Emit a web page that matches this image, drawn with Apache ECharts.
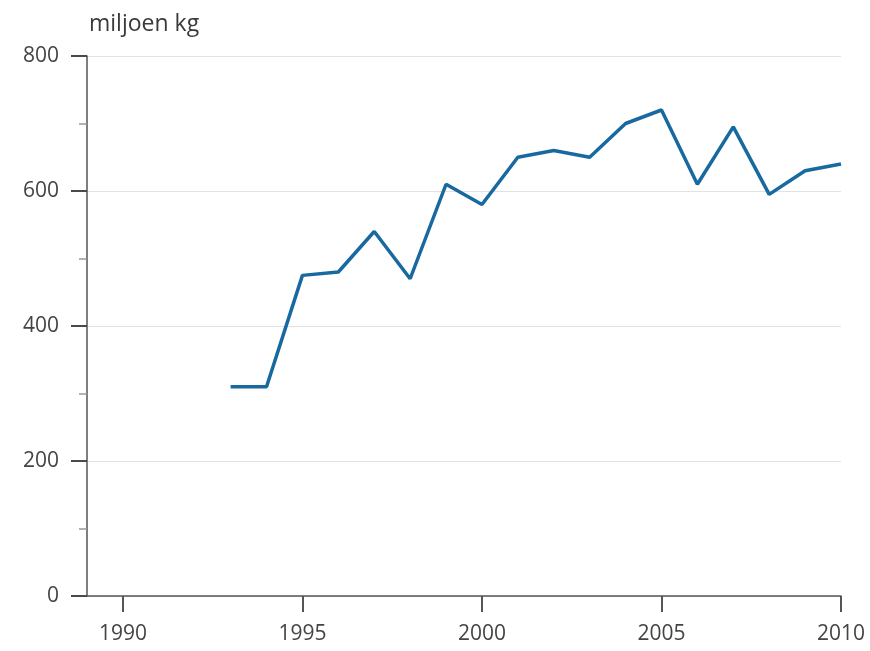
<!DOCTYPE html>
<html>
<head>
<meta charset="utf-8">
<script src="https://cdn.jsdelivr.net/npm/echarts@6/dist/echarts.min.js"></script>
<style>html,body{margin:0;padding:0;background:#fff}#c{width:870px;height:651px}</style>
</head>
<body>
<div id="c"></div>
<script>
var years = [1993,1994,1995,1996,1997,1998,1999,2000,2001,2002,2003,2004,2005,2006,2007,2008,2009,2010];
var values = [310,310,475,480,540,470,610,580,650,660,650,700,720,610,695,595,630,640];
var xTicks = [1990,1995,2000,2005,2010];
var yTicks = [0,200,400,600,800];
var unitLabel = 'miljoen kg';

var chart = echarts.init(document.getElementById('c'));
var font = 'Open Sans';
chart.setOption({
  animation: false,
  title: {text: unitLabel, left: 84, top: 8, textStyle: {fontFamily: font, fontSize: 23, fontWeight: 'normal', color: '#3a3a3a'}},
  grid: {left: 87, right: 29, top: 56, bottom: 55},
  xAxis: {
    type: 'value', min: 1989, max: 2010,
    axisLine: {show: true, lineStyle: {color: '#555', width: 1.5}},
    axisTick: {show: true, customValues: xTicks, length: 16, lineStyle: {color: '#555', width: 2}},
    axisLabel: {customValues: xTicks, margin: 28, fontFamily: font, fontSize: 21, color: '#444',
      formatter: function(v){ return String(v); }},
    splitLine: {show: false}
  },
  yAxis: {
    type: 'value', min: 0, max: 800, interval: 200,
    axisLine: {show: true, lineStyle: {color: '#555', width: 1.5}},
    axisTick: {show: true, inside: false, length: 16, lineStyle: {color: '#4a4a4a', width: 2}},
    minorTick: {show: true, splitNumber: 2, length: 8, lineStyle: {color: '#999', width: 1.5}},
    axisLabel: {margin: 28, fontFamily: font, fontSize: 21, color: '#444'},
    splitLine: {show: true, lineStyle: {color: '#e2e2e2', width: 1}}
  },
  series: [{
    type: 'line',
    data: years.map(function(y, i){ return [y, values[i]]; }),
    showSymbol: false,
    lineStyle: {color: '#18699f', width: 3.5},
    itemStyle: {color: '#18699f'}
  }]
});
</script>
</body>
</html>
